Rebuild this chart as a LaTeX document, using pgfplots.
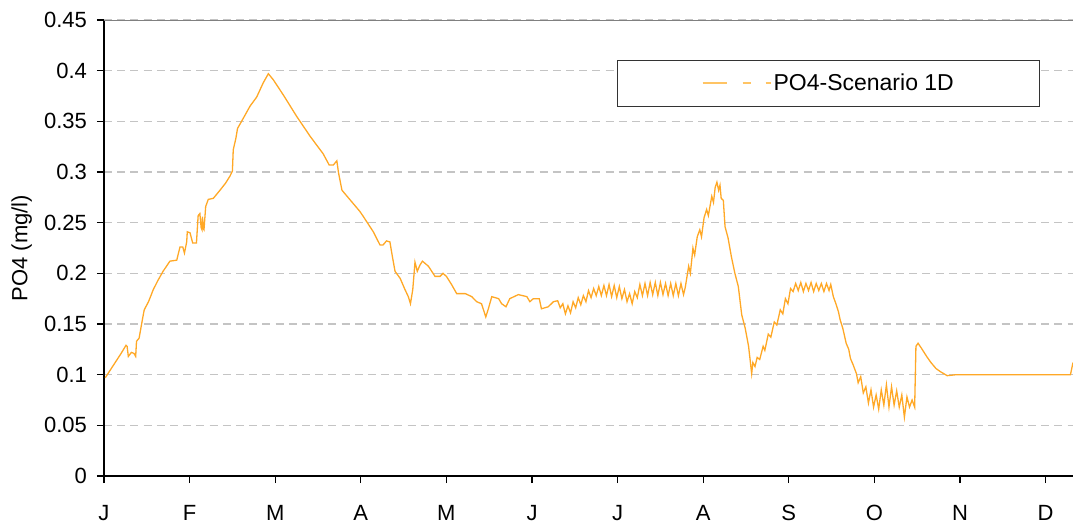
\documentclass[border=0pt]{standalone}
\usepackage{fontspec}
\setmainfont{Liberation Sans}
\usepackage{pgfplots}
\pgfplotsset{compat=1.18}
\usepackage{pgfplotstable}

\definecolor{po4}{RGB}{255,168,38}
\definecolor{po4light}{RGB}{255,196,100}
\definecolor{gridgray}{RGB}{196,196,196}

% x = month index (0 = J ... 11 = D), y = PO4 in mg/l
\pgfplotstableread{
x y
0.015 0.097
0.10 0.108
0.20 0.121
0.257 0.129
0.27 0.128
0.284 0.118
0.32 0.122
0.35 0.121
0.37 0.118
0.38 0.133
0.41 0.136
0.45 0.155
0.47 0.164
0.52 0.172
0.576 0.184
0.63 0.193
0.69 0.202
0.77 0.212
0.85 0.213
0.87 0.220
0.888 0.226
0.92 0.226
0.94 0.220
0.966 0.231
0.973 0.241
1.005 0.240
1.036 0.230
1.08 0.230
1.10 0.257
1.12 0.259
1.135 0.245
1.145 0.243
1.15 0.256
1.16 0.244
1.168 0.243
1.188 0.266
1.218 0.273
1.277 0.274
1.355 0.282
1.42 0.289
1.472 0.296
1.50 0.301
1.51 0.322
1.54 0.333
1.56 0.343
1.627 0.353
1.706 0.365
1.784 0.374
1.86 0.388
1.92 0.397
1.978 0.391
2.095 0.376
2.25 0.355
2.41 0.335
2.56 0.318
2.63 0.307
2.68 0.307
2.72 0.311
2.74 0.299
2.78 0.282
2.87 0.273
2.99 0.261
3.03 0.256
3.146 0.241
3.224 0.228
3.26 0.228
3.30 0.232
3.34 0.231
3.37 0.216
3.40 0.202
3.46 0.195
3.516 0.184
3.555 0.177
3.58 0.170
3.607 0.184
3.633 0.211
3.66 0.202
3.69 0.208
3.72 0.212
3.79 0.207
3.867 0.197
3.925 0.197
3.96 0.200
4.00 0.197
4.06 0.189
4.12 0.180
4.22 0.180
4.296 0.177
4.354 0.172
4.41 0.170
4.46 0.157
4.49 0.165
4.53 0.177
4.61 0.175
4.645 0.170
4.696 0.167
4.74 0.175
4.84 0.179
4.94 0.177
4.975 0.172
5.015 0.175
5.085 0.175
5.11 0.165
5.19 0.167
5.25 0.172
5.30 0.173
5.33 0.166
5.36 0.170
5.39 0.160
5.42 0.168
5.45 0.161
5.48 0.172
5.51 0.166
5.54 0.176
5.57 0.169
5.60 0.178
5.63 0.172
5.66 0.183
5.69 0.176
5.72 0.185
5.75 0.178
5.78 0.187
5.81 0.178
5.84 0.188
5.87 0.178
5.90 0.189
5.93 0.177
5.96 0.188
5.99 0.176
6.02 0.187
6.05 0.175
6.08 0.184
6.11 0.172
6.14 0.180
6.17 0.170
6.20 0.182
6.23 0.176
6.26 0.189
6.29 0.178
6.32 0.190
6.35 0.178
6.38 0.191
6.41 0.179
6.44 0.191
6.47 0.178
6.50 0.191
6.53 0.179
6.56 0.190
6.59 0.178
6.62 0.190
6.65 0.178
6.68 0.190
6.71 0.178
6.74 0.190
6.77 0.179
6.79 0.186
6.83 0.207
6.85 0.200
6.88 0.225
6.90 0.218
6.93 0.236
6.96 0.243
6.98 0.236
7.01 0.255
7.04 0.263
7.06 0.257
7.10 0.276
7.12 0.270
7.14 0.285
7.16 0.290
7.18 0.282
7.196 0.287
7.21 0.274
7.235 0.272
7.255 0.246
7.29 0.235
7.33 0.216
7.37 0.200
7.41 0.187
7.45 0.159
7.49 0.146
7.53 0.128
7.566 0.101
7.58 0.112
7.605 0.108
7.63 0.117
7.66 0.115
7.70 0.128
7.72 0.124
7.76 0.140
7.79 0.137
7.83 0.152
7.86 0.149
7.90 0.164
7.93 0.160
7.96 0.175
7.99 0.170
8.02 0.185
8.05 0.182
8.08 0.190
8.11 0.183
8.14 0.191
8.17 0.182
8.20 0.190
8.23 0.183
8.26 0.191
8.29 0.182
8.32 0.190
8.35 0.183
8.38 0.190
8.41 0.182
8.44 0.190
8.47 0.183
8.49 0.189
8.52 0.177
8.55 0.170
8.58 0.162
8.60 0.154
8.63 0.146
8.67 0.131
8.70 0.125
8.72 0.116
8.75 0.110
8.79 0.101
8.81 0.092
8.84 0.098
8.87 0.082
8.90 0.088
8.93 0.072
8.96 0.085
8.99 0.068
9.02 0.080
9.05 0.066
9.08 0.085
9.11 0.070
9.14 0.090
9.17 0.068
9.20 0.088
9.23 0.070
9.26 0.084
9.29 0.068
9.32 0.080
9.35 0.058
9.38 0.078
9.41 0.068
9.44 0.075
9.47 0.068
9.485 0.128
9.51 0.131
9.55 0.126
9.61 0.118
9.66 0.112
9.72 0.106
9.77 0.103
9.85 0.099
9.96 0.100
11.29 0.100
11.31 0.108
11.32 0.112
}\potable

\begin{document}
\begin{tikzpicture}
\begin{axis}[
    name=ax,
    scale only axis,
    width=484.5pt, height=228pt,
    xmin=0, xmax=11.32, ymin=0, ymax=0.45,
    enlargelimits=false,
    axis x line*=bottom, axis y line*=left,
    axis line style={black, line width=0.7pt},
    xtick={0,1,...,11},
    xticklabels={J,F,M,A,M,J,J,A,S,O,N,D},
    ytick={0,0.05,0.1,0.15,0.2,0.25,0.3,0.35,0.4,0.45},
    yticklabels={0,0.05,0.1,0.15,0.2,0.25,0.3,0.35,0.4,0.45},
    /pgf/number format/assume math mode=true,
    tick align=outside,
    major tick length=3.5pt,
    tick style={black, line width=0.6pt},
    xticklabel style={yshift=-7.5pt},
    yticklabel style={xshift=-1.5pt},
    ymajorgrids,
    grid style={gridgray, line width=0.6pt, dash pattern=on 4pt off 2.6pt},
    font=\fontsize{11}{13}\selectfont,
    ylabel={PO4 (mg/l)},
    ylabel style={at={(axis description cs:-0.085,0.5)}, anchor=center},
    legend style={at={(rel axis cs:0.5294,0.9125)}, anchor=north west,
        draw=black!80, line width=0.6pt, inner xsep=42pt, inner ysep=5.5pt,
        nodes={inner sep=1pt}, font=\fontsize{11.5}{13}\selectfont},
    legend image code/.code={
        \draw[draw=po4light, line width=1pt,
              dash pattern=on 12pt off 8pt on 4pt off 7.5pt on 2.5pt]
              (0pt,0pt) -- (34pt,0pt);},
]
\draw[black!50, line width=0.6pt] (rel axis cs:0,1) -- (rel axis cs:1,1);
\addplot[po4, line width=0.65pt] table[x=x, y=y] {\potable};
\addlegendentry{PO4-Scenario 1D}
\end{axis}
\pgfresetboundingbox
\path[use as bounding box] ([xshift=-52pt,yshift=-26.5pt]ax.south west)
    rectangle ([yshift=10pt]ax.north east);
\end{tikzpicture}
\end{document}
